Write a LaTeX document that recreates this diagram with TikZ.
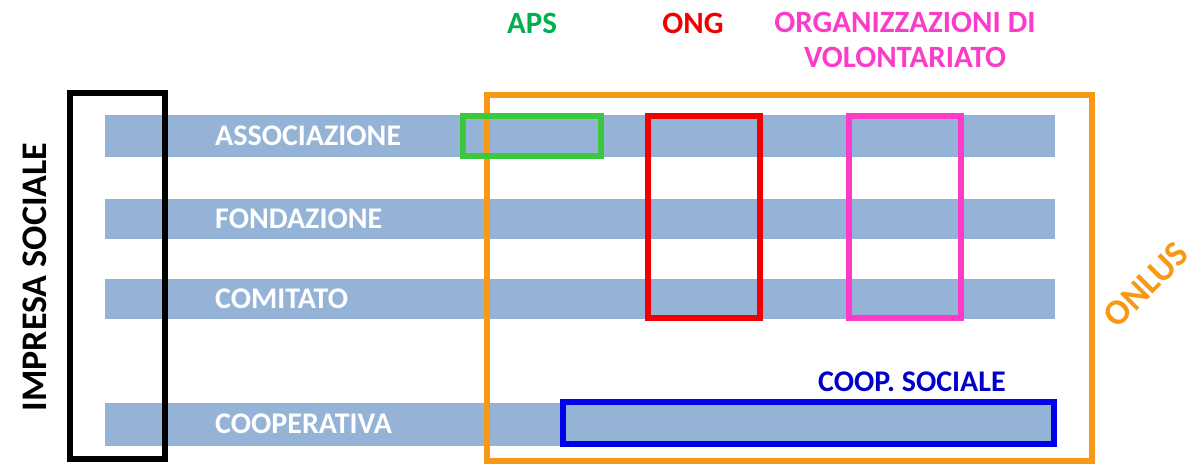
\documentclass[tikz,border=0pt]{standalone}
\usepackage{fontspec}
\setmainfont{Carlito}
\usepackage{tikz}
\usepackage{xcolor}
\definecolor{barblue}{RGB}{149,179,215}
\definecolor{onlusorange}{RGB}{247,153,20}
\definecolor{apsgreen}{RGB}{0,176,80}
\definecolor{boxgreen}{RGB}{60,200,60}
\definecolor{ongred}{RGB}{240,0,0}
\definecolor{volmagenta}{RGB}{250,60,200}
\definecolor{coopblue}{RGB}{0,0,235}
\definecolor{cooptext}{RGB}{0,0,200}

\tikzset{
  bar/.style={fill=barblue, draw=none},
  barlabel/.style={anchor=west, text=white, font=\fontsize{30}{34}\selectfont\bfseries, inner sep=0pt},
  toplabel/.style={font=\fontsize{31}{35}\selectfont\bfseries, inner sep=0pt, align=center},
  sidelabel/.style={font=\fontsize{36}{40}\selectfont\bfseries, inner sep=0pt},
  frame/.style={line width=6pt}
}

\begin{document}
\begin{tikzpicture}[x=1pt, y=-1pt]
  \useasboundingbox (0,0) rectangle (1198,466);
  % the four legal forms
  \fill[bar] (105,115) rectangle (1055,157);
  \fill[bar] (105,199) rectangle (1055,239);
  \fill[bar] (105,279) rectangle (1055,319);
  \fill[bar] (105,403) rectangle (1055,446);
  \node[barlabel] (assoc) at (215,136) {ASSOCIAZIONE};
  \node[barlabel] (fond)  at (215,219) {FONDAZIONE};
  \node[barlabel] (comit) at (215,299) {COMITATO};
  \node[barlabel] (coop)  at (215,424) {COOPERATIVA};

  % impresa sociale
  \draw[frame, black] (70,93) rectangle (165,459);
  \node[sidelabel, rotate=90] (impresa) at (35,277) {IMPRESA SOCIALE};

  % onlus
  \draw[frame, onlusorange] (487,95) rectangle (1092,461);
  \node[sidelabel, text=onlusorange, rotate=45] (onlus) at (1146,285) {ONLUS};

  % qualifiche
  \draw[frame, boxgreen] (463,116) rectangle (601,156);
  \node[toplabel, text=apsgreen] (aps) at (532,23) {APS};
  \draw[frame, ongred] (648,116) rectangle (760,318);
  \node[toplabel, text=ongred] (ong) at (693,23) {ONG};
  \draw[frame, volmagenta] (849,116) rectangle (961,318);
  \node[toplabel, text=volmagenta] (odv) at (905,40) {ORGANIZZAZIONI DI\\VOLONTARIATO};
  \draw[frame, coopblue] (563,402) rectangle (1054,444);
  \node[toplabel, text=cooptext, font=\fontsize{30}{34}\selectfont\bfseries] (coopsoc) at (912,382) {COOP. SOCIALE};
\end{tikzpicture}
\end{document}
